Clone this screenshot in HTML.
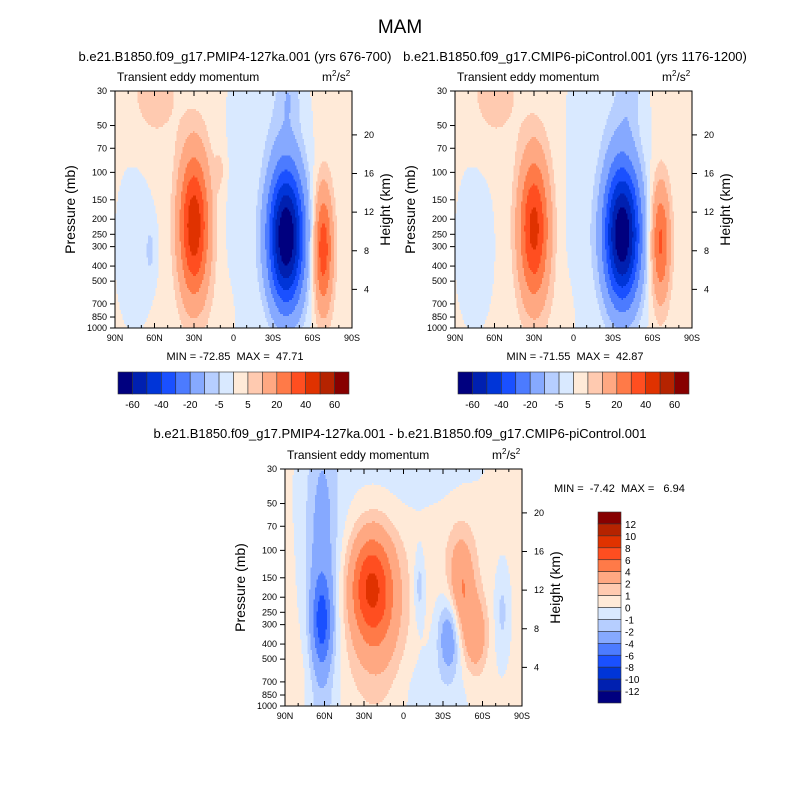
<!DOCTYPE html>
<html><head><meta charset="utf-8">
<style>
body{margin:0;background:#fff;}
svg{display:block;font-family:"Liberation Sans",sans-serif;}
text{white-space:pre;}
</style></head>
<body>
<svg id="fig" width="800" height="800" viewBox="0 0 800 800">
<text x="400" y="33" font-size="19" text-anchor="middle">MAM</text>
</svg>
<script>
const NS="http://www.w3.org/2000/svg";
const fig=document.getElementById('fig');
// ---- data arrays ----
const latTicks=[90,60,30,0,-30,-60,-90];
const latLabels=["90N","60N","30N","0","30S","60S","90S"];
const presTicks=[30,50,70,100,150,200,250,300,400,500,700,850,1000];
const heightTicks=[4,8,12,16,20];
const levelsAbs=[-60,-50,-40,-30,-20,-10,-5,0,5,10,20,30,40,50,60];
const levelsDiff=[-12,-10,-8,-6,-4,-2,-1,0,1,2,4,6,8,10,12];
const colors=["#00007f","#0020b0","#0035d8","#1a50ff","#4c7bff","#86a9ff","#b6ceff","#d9e9ff","#ffead8","#ffcab0","#ffa882","#ff7a48","#ff4e20","#e03200","#b52300","#870000"];
// blobs: [lat, pressure, amplitude, sigmaLat, sigmaLnP]
const blobs1=[[30,220,46,8,0.75],[-40,260,-72,10,0.75],[-68,310,36,5,0.62],[60,30,7,12,0.5],[63,320,-6,3,0.3],[-42,30,-7,6,0.35],[10,95,5,3,0.25],[75,300,-3.5,12,1.0],[-5,300,-3.5,10,2.5],[-35,40,-4,15,0.6],[5,850,2,8,0.5]];
const blobs2=[[30,230,42,8,0.75],[-37,250,-71,10,0.75],[-66,280,31,5,0.6],[60,30,7,12,0.5],[-42,30,-6,6,0.35],[75,300,-3.5,12,1.0],[-5,300,-3.5,10,2.5],[-35,40,-4,15,0.6],[5,850,2,8,0.5]];
const blobs3=[[62,290,-5,5,0.45],[62,200,-3,9,2.0],[25,170,6.5,11,0.55],[18,260,2.5,14,0.9],[-44,180,3.8,7,0.55],[-55,350,3,6,0.4],[-35,350,-3.8,6,0.4],[-12,170,-1.8,3,0.4],[-75,250,-1.5,4,0.5],[0,40,-0.8,50,0.8],[-20,800,-0.8,25,0.5],[70,700,0.6,20,0.6],[-30,80,0.6,30,0.5]];
const bases=[1.5,1.5,0.3];

function el(tag,attrs,parent,name,txt){const e=document.createElementNS(NS,tag);for(const k in attrs)e.setAttribute(k,attrs[k]);


if(txt!==undefined)e.textContent=txt;(parent||fig).appendChild(e);return e;}
function colorFor(v,lev){let i=0;while(i<lev.length&&v>=lev[i])i++;return colors[i];}

function panel(x0,y0,W,H,blobs,lev,base,id){
  const g=el('g',{},fig,'panel-'+id);
  const xS=lat=>x0+(90-lat)/180*W;
  const yS=p=>y0+H*Math.log(p/30)/Math.log(1000/30);
  const field=(lat,p)=>{let v=base;for(const b of blobs){const dl=(lat-b[0])/b[3],dp=Math.log(p/b[1])/b[4];v+=b[2]*Math.exp(-0.5*(dl*dl+dp*dp));}return v;};
  const nx=158,ny=118,cw=W/nx,ch=H/ny;
  const cg=el('g',{'shape-rendering':'crispEdges'},g,'contour-fill');
  for(let j=0;j<ny;j++){
    const yy=y0+(j+0.5)*ch;const p=30*Math.exp((yy-y0)/H*Math.log(1000/30));
    let start=0,cur=null;
    for(let i=0;i<=nx;i++){
      let c=null;if(i<nx){const lat=90-(i+0.5)/nx*180;c=colorFor(field(lat,p),lev);}
      if(c!==cur){if(cur!==null){el('rect',{x:(x0+start*cw).toFixed(2),y:(y0+j*ch).toFixed(2),width:((i-start)*cw+0.6).toFixed(2),height:(ch+0.6).toFixed(2),fill:cur},cg,'contour-cell');}start=i;cur=c;}
    }
  }
  el('rect',{x:x0,y:y0,width:W,height:H,fill:'none',stroke:'#000','stroke-width':1},g,'plot-frame');
  for(let lat=90;lat>=-90;lat-=10){const x=xS(lat);const big=lat%30===0;
    el('line',{x1:x,y1:y0+H,x2:x,y2:y0+H-(big?5:3),stroke:'#000'},g,'x-tick');
    el('line',{x1:x,y1:y0,x2:x,y2:y0+(big?5:3),stroke:'#000'},g,'x-tick-top');}
  latTicks.forEach((l,i)=>el('text',{x:xS(l),y:y0+H+13,'font-size':9,'text-anchor':'middle'},g,'x-tick-label',latLabels[i]));
  presTicks.forEach(p=>{const y=yS(p);el('line',{x1:x0,y1:y,x2:x0-5,y2:y,stroke:'#000'},g,'y-tick');
    el('text',{x:x0-8,y:y+3,'font-size':9,'text-anchor':'end'},g,'y-tick-label',String(p));});
  heightTicks.forEach(h=>{const y=yS(1000*Math.exp(-h/7));el('line',{x1:x0+W,y1:y,x2:x0+W+5,y2:y,stroke:'#000'},g,'height-tick');
    el('text',{x:x0+W+12,y:y+3,'font-size':9},g,'height-tick-label',String(h));});
  el('text',{x:x0+2,y:y0-10,'font-size':12},g,'plot-subtitle','Transient eddy momentum');
  const u=el('text',{x:x0+W-30,y:y0-10,'font-size':12},g,'units-label');
  u.innerHTML='m<tspan dy="-5" font-size="8">2</tspan><tspan dy="5">/s</tspan><tspan dy="-5" font-size="8">2</tspan>';
  el('text',{x:x0-40,y:y0+H/2,'font-size':14,'text-anchor':'middle',transform:`rotate(-90 ${x0-40} ${y0+H/2})`},g,'y-axis-title','Pressure (mb)');
  el('text',{x:x0+W+38,y:y0+H/2,'font-size':14,'text-anchor':'middle',transform:`rotate(-90 ${x0+W+38} ${y0+H/2})`},g,'y2-axis-title','Height (km)');
}
function hbar(x0,y0,w,h,lev){const g=el('g',{},fig,'colorbar');const bw=w/colors.length;
  colors.forEach((c,i)=>el('rect',{x:x0+i*bw,y:y0,width:bw,height:h,fill:c,stroke:'#333','stroke-width':0.6},g,'colorbar-box'));
  lev.forEach((v,i)=>{if(i%2===0)el('text',{x:x0+(i+1)*bw,y:y0+h+14,'font-size':10,'text-anchor':'middle'},g,'colorbar-label',String(v));});}
function vbar(x0,y0,w,h,lev){const g=el('g',{},fig,'colorbar-vertical');const bh=h/colors.length;
  colors.slice().reverse().forEach((c,i)=>el('rect',{x:x0,y:y0+i*bh,width:w,height:bh,fill:c,stroke:'#333','stroke-width':0.6},g,'colorbar-box'));
  lev.slice().reverse().forEach((v,i)=>el('text',{x:x0+w+4,y:y0+(i+1)*bh+4,'font-size':10},g,'colorbar-label',String(v)));}

el('text',{x:235,y:61,'font-size':13,'text-anchor':'middle'},fig,'left-panel-title','b.e21.B1850.f09_g17.PMIP4-127ka.001 (yrs 676-700)');
el('text',{x:575,y:61,'font-size':13,'text-anchor':'middle'},fig,'right-panel-title','b.e21.B1850.f09_g17.CMIP6-piControl.001 (yrs 1176-1200)');
el('text',{x:400,y:438,'font-size':13,'text-anchor':'middle'},fig,'diff-panel-title','b.e21.B1850.f09_g17.PMIP4-127ka.001 - b.e21.B1850.f09_g17.CMIP6-piControl.001');
panel(115,91,237,237,blobs1,levelsAbs,bases[0],'pmip4');
panel(455,91,237,237,blobs2,levelsAbs,bases[1],'picontrol');
panel(285,469,237,237,blobs3,levelsDiff,bases[2],'difference');
el('text',{x:235,y:360,'font-size':11,'text-anchor':'middle'},fig,'minmax-left','MIN = -72.85  MAX =  47.71');
el('text',{x:575,y:360,'font-size':11,'text-anchor':'middle'},fig,'minmax-right','MIN = -71.55  MAX =  42.87');
el('text',{x:554,y:492,'font-size':11},fig,'minmax-diff','MIN =  -7.42  MAX =   6.94');
hbar(118,372,231,22,levelsAbs);
hbar(458,372,231,22,levelsAbs);
vbar(598,512,23,191,levelsDiff);
</script>
</body></html>
